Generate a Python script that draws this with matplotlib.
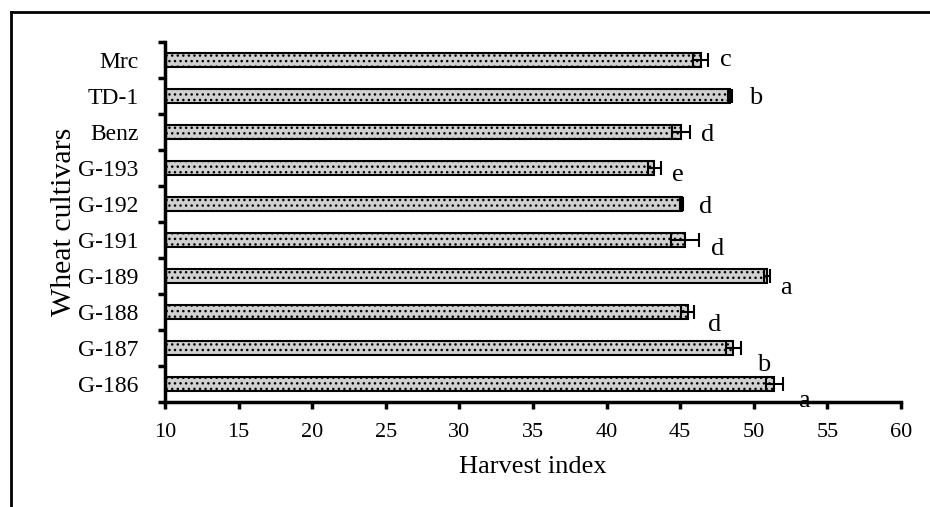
import numpy as np
import matplotlib
matplotlib.use("Agg")
import matplotlib.pyplot as plt
from matplotlib.lines import Line2D

plt.rcParams['font.family'] = ['Liberation Serif', 'DejaVu Serif']
plt.rcParams['hatch.color'] = 'black'
plt.rcParams['hatch.linewidth'] = 1.0

# Data (bottom to top)
cultivars = ['G-186', 'G-187', 'G-188', 'G-189', 'G-191',
             'G-192', 'G-193', 'Benz', 'TD-1', 'Mrc']
harvest_index = [51.4, 48.6, 45.5, 50.9, 45.3, 45.1, 43.25, 45.05, 48.4, 46.4]
errors = [0.55, 0.5, 0.45, 0.22, 0.95, 0.12, 0.45, 0.6, 0.15, 0.5]
groups = ['a', 'b', 'd', 'a', 'd', 'd', 'e', 'd', 'b', 'c']

# letter offsets from the error bar end, in pixels (layout only)
letter_dx = [16, 16, 14, 10, 12, 16, 11, 11, 17, 12]
letter_dy = [-23, -23, -19, -18, -15, -9, -13, -9, -8, -6]

fig = plt.figure(figsize=(9.3, 5.07), dpi=100)
ax = fig.add_axes([165 / 930, 1 - 402 / 507, (901 - 165) / 930, 360 / 507])

y = np.arange(len(cultivars)) + 0.5
ax.barh(y, harvest_index, height=0.4, color='#d0d0d0', edgecolor='black',
        linewidth=1.5, hatch='...', zorder=2)
ax.errorbar(harvest_index, y, xerr=errors, fmt='none', ecolor='black',
            elinewidth=1.5, capsize=5, capthick=1.5, zorder=3)

for xi, yi, e, g, dx, dy in zip(harvest_index, y, errors, groups, letter_dx, letter_dy):
    ax.annotate(g, (xi + e, yi), xytext=(dx, dy), textcoords='offset pixels',
                ha='left', va='baseline', fontsize=19, zorder=1)

ax.set_xlim(10, 60)
ax.set_ylim(0, len(cultivars))
ax.set_xticks(np.arange(10, 61, 5))
ax.set_yticks(np.arange(0, len(cultivars) + 1))
ax.set_yticklabels([])
ax.set_yticks(y, minor=True)
ax.set_yticklabels(cultivars, minor=True)

for s in ['top', 'right']:
    ax.spines[s].set_visible(False)
for s in ['left', 'bottom']:
    ax.spines[s].set_linewidth(2.5)
    ax.spines[s].set_zorder(4)

ax.tick_params(axis='x', which='major', direction='out', length=5, width=2.5,
               labelsize=16, pad=10)
ax.tick_params(axis='y', which='major', direction='out', length=5, width=2.5)
ax.tick_params(axis='y', which='minor', length=0, labelsize=17, pad=19)

ax.set_xlabel('Harvest index', fontsize=19, labelpad=10)
ax.set_ylabel('Wheat cultivars', fontsize=21.5, labelpad=1)

# outer frame (left and top visible)
fig.add_artist(Line2D([11 / 930, 11 / 930], [0, 1 - 12 / 507], color='black',
                      linewidth=2, transform=fig.transFigure))
fig.add_artist(Line2D([11 / 930, 1], [1 - 12 / 507, 1 - 12 / 507], color='black',
                      linewidth=2, transform=fig.transFigure))

fig.savefig('out.png', dpi=100)
